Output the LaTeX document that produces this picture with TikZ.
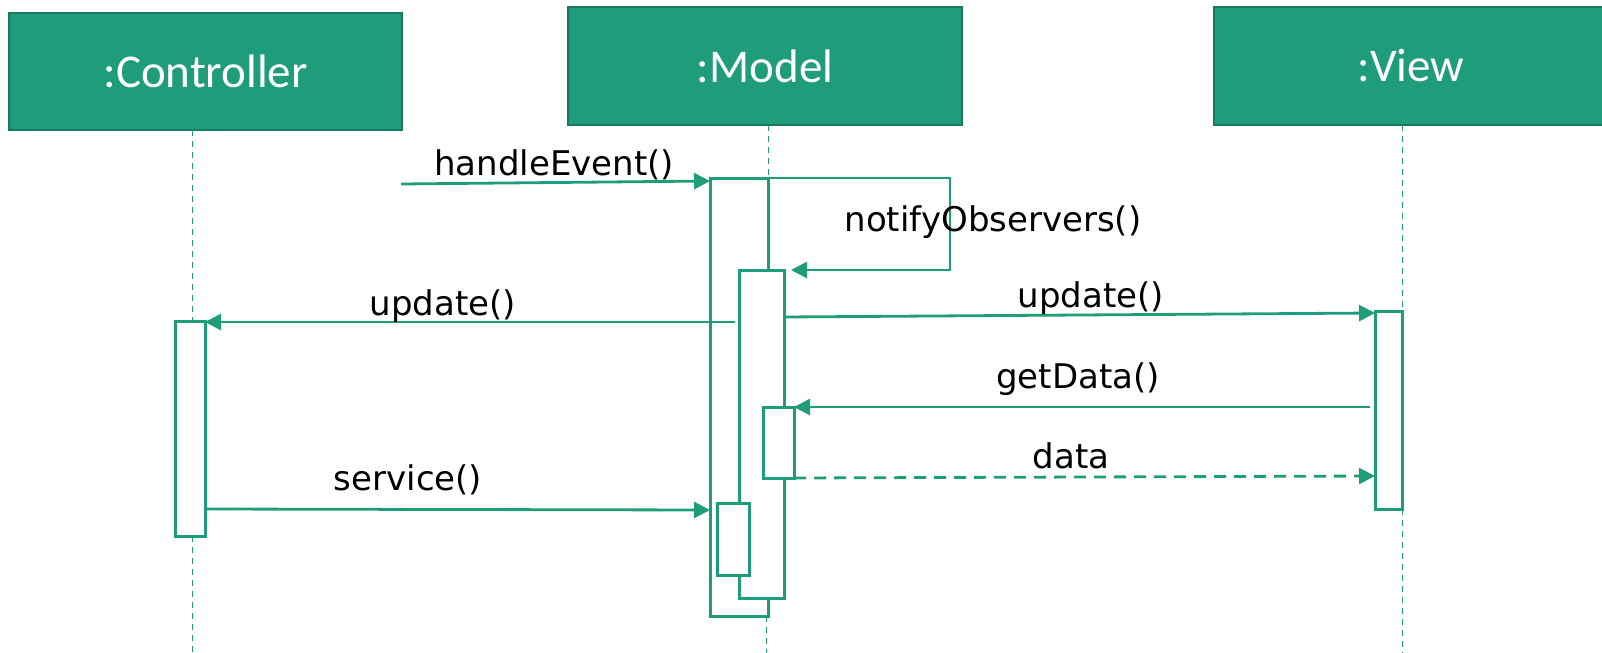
\documentclass[tikz,border=0pt]{standalone}
\usepackage{fontspec}
\setmainfont{DejaVu Sans}
\newfontfamily\boxfont{Carlito}
\usetikzlibrary{arrows.meta,calc}
\definecolor{gfill}{RGB}{31,156,122}
\definecolor{gdark}{RGB}{24,122,95}
\definecolor{gline}{RGB}{31,156,122}
\begin{document}
\begin{tikzpicture}[x=0.5pt,y=-0.5pt,
  header/.style={draw=gdark, fill=gfill, line width=1.2pt, inner sep=0pt, outer sep=0pt, text=white, font=\boxfont\fontsize{23.5}{27}\selectfont},
  act/.style={draw=gline, fill=white, line width=1.5pt, inner sep=0pt, outer sep=0pt},
  life/.style={draw=gline, line width=0.5pt, dash pattern=on 3pt off 2.5pt},
  msg/.style={draw=gline, line width=1.4pt, -{Triangle[length=8pt,width=8pt]}},
  thinmsg/.style={draw=gline, line width=0.6pt},
  lbl/.style={anchor=base, inner sep=0pt, font=\fontsize{17}{20}\selectfont},
]
\clip (0,0) rectangle (1602,653);
% headers
\node[header, minimum width=196.5pt, minimum height=58.5pt] (ctrl) at (205.5,71.5) {:Controller};
\node[header, minimum width=197pt, minimum height=59pt] (model) at (765,66) {:Model};
\node[header, minimum width=197pt, minimum height=59pt] (view) at (1411,66) {:View};
% activation placeholders for lifelines
\path (190,428.5) node[minimum width=15pt, minimum height=107.5pt, inner sep=0pt, outer sep=0pt] (C1) {};
\path (739,397) node[minimum width=29pt, minimum height=219pt, inner sep=0pt, outer sep=0pt] (A1) {};
\path (1388.5,410) node[minimum width=13.5pt, minimum height=99pt, inner sep=0pt, outer sep=0pt] (V1) {};
% lifelines
\draw[life] (ctrl.south -| 192,0) -- (C1.north -| 192,0);
\draw[life] (C1.south -| 192,0) -- (192,653);
\draw[life] (model.south -| A1.north east) -- (A1.north east);
\draw[life] (A1.south east) ++(-2,0) -- (766,653);
\draw[life] (view.south -| V1.east) -- (V1.north east);
\draw[life] (V1.south east) -- (V1.south east |- 0,653);
% activations
\node[act, minimum width=29pt, minimum height=219pt] (A1b) at (A1) {};
\node[act, minimum width=22.5pt, minimum height=164pt] (A2) at (761.5,434) {};
\node[act, minimum width=15.5pt, minimum height=35.5pt] (A3) at (778.5,442.5) {};
\node[act, minimum width=16pt, minimum height=36pt] (A4) at (733,539) {};
\node[act, minimum width=15pt, minimum height=107.5pt] (C1b) at (C1) {};
\node[act, minimum width=13.5pt, minimum height=99pt] (V1b) at (V1) {};
% messages
\coordinate (hs) at (401,184);
\draw[msg] (hs) -- (A1b.west |- 0,181);
\coordinate (sr) at (934,270);
\draw[thinmsg] (A1b.north east) -| (950,270) -- (sr);
\draw[msg] (sr) -- ($(A2.north east)+(7,0)$);
\draw[msg] ($(A2.west |- 0,322)+(-4,0)$) -- (C1b.east |- 0,322);
\draw[msg] (A2.east |- 0,317) -- (V1b.west |- 0,313);
\draw[msg] ($(V1b.west |- 0,407)+(-5,0)$) -- (A3.north east);
\draw[msg, dash pattern=on 6pt off 4pt] (A3.south east) -- (V1b.west |- 0,476);
\draw[msg] (C1b.east |- 0,509) -- (A1b.west |- 0,510);
% labels
\node[lbl] (lhe) at (554,175) {handleEvent()};
\node[lbl] (lno) at (993,231) {notifyObservers()};
\node[lbl] (lu1) at (443,315) {update()};
\node[lbl] (lu2) at (1091,307) {update()};
\node[lbl] (lgd) at (1078,388) {getData()};
\node[lbl] (lda) at (1071,468) {data};
\node[lbl] (lsv) at (408,490) {service()};
\end{tikzpicture}
\end{document}
